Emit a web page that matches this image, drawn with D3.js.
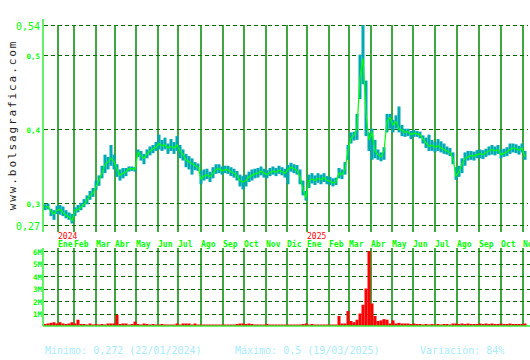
<!DOCTYPE html>
<html>
<head>
<meta charset="utf-8">
<script src="https://cdn.jsdelivr.net/npm/d3@7"></script>
<style>
  body { margin: 0; background: #fff; }
  svg { display: block; }
</style>
</head>
<body>
<script>
// one sample every 3 sessions, starting at session 1
const closes = [
  .294,.295,.288,.285,.290,.291,.287,.283,.281,.276,
  .290,.291,.294,.298,.304,.310,.313,.322,.330,.340,
  .352,.355,.360,.356,.345,.337,.340,.342,.346,.346,
  .345,.368,.363,.360,.366,.370,.373,.375,.380,.377,
  .378,.374,.376,.374,.378,.370,.365,.358,.355,.353,
  .350,.348,.332,.336,.338,.335,.340,.345,.346,.343,
  .345,.344,.342,.340,.336,.330,.328,.330,.335,.337,
  .339,.340,.343,.340,.338,.341,.343,.341,.344,.342,
  .340,.345,.348,.346,.344,.335,.318,.307,.330,.332,
  .330,.333,.331,.334,.330,.329,.327,.328,.340,.338,
  .345,.370,.388,.391,.400,.470,.495,.420,.385,.395,
  .370,.365,.362,.370,.410,.415,.405,.410,.400,.398,
  .395,.396,.392,.394,.393,.392,.386,.381,.376,.378,
  .375,.377,.374,.372,.370,.368,.360,.336,.342,.352,
  .360,.362,.364,.363,.365,.366,.365,.368,.370,.372,
  .370,.372,.365,.367,.369,.372,.374,.373,.371,.374,
  .362
];
const highs = [
  .298,.299,.292,.290,.296,.297,.295,.290,.287,.285,
  .294,.297,.300,.305,.310,.316,.320,.330,.337,.350,
  .365,.362,.378,.365,.352,.345,.347,.347,.349,.349,
  .348,.372,.370,.366,.372,.376,.378,.382,.392,.385,
  .388,.380,.386,.382,.390,.378,.372,.366,.363,.360,
  .355,.353,.343,.345,.346,.342,.348,.352,.352,.349,
  .350,.350,.348,.346,.343,.338,.336,.338,.342,.345,
  .346,.347,.349,.346,.344,.347,.349,.347,.350,.348,
  .346,.351,.354,.352,.351,.345,.330,.316,.338,.340,
  .337,.340,.338,.340,.336,.335,.333,.334,.347,.345,
  .355,.378,.395,.396,.420,.500,.540,.465,.395,.400,
  .385,.372,.368,.375,.420,.420,.412,.418,.430,.405,
  .400,.400,.397,.398,.397,.396,.391,.388,.392,.385,
  .382,.386,.383,.380,.376,.374,.368,.348,.350,.360,
  .368,.370,.370,.369,.371,.372,.371,.373,.376,.378,
  .376,.378,.372,.373,.375,.380,.380,.379,.377,.380,
  .370
];
const lows = [
  .290,.291,.282,.277,.285,.284,.282,.279,.277,.272,
  .282,.287,.290,.294,.298,.304,.308,.317,.323,.333,
  .340,.345,.350,.345,.335,.330,.333,.336,.342,.343,
  .342,.362,.357,.352,.360,.364,.367,.370,.372,.370,
  .372,.366,.370,.366,.370,.360,.357,.348,.345,.338,
  .344,.343,.325,.330,.332,.328,.333,.339,.340,.338,
  .340,.339,.336,.334,.330,.322,.318,.322,.328,.330,
  .333,.334,.337,.334,.333,.336,.338,.336,.339,.337,
  .334,.325,.342,.340,.338,.325,.310,.303,.320,.326,
  .324,.327,.325,.328,.325,.324,.322,.324,.333,.332,
  .338,.358,.380,.384,.385,.440,.460,.390,.370,.358,
  .360,.358,.356,.358,.395,.400,.395,.400,.395,.390,
  .389,.390,.386,.389,.389,.387,.380,.374,.370,.370,
  .368,.370,.368,.366,.365,.363,.352,.331,.335,.340,
  .350,.357,.358,.357,.360,.360,.359,.362,.364,.365,
  .364,.366,.360,.362,.363,.366,.368,.367,.365,.368,
  .358
];
// volume in millions
const volumes = [
  .16,.2,.25,.3,.2,.3,.2,.16,.2,.3,
  .2,.5,.16,.16,.12,.2,.12,.16,.12,.16,
  .12,.2,.2,.2,.9,.16,.2,.2,.12,.16,
  .35,.16,.12,.2,.16,.12,.16,.12,.12,.16,
  .12,.12,.12,.12,.2,.12,.2,.2,.2,.12,
  .2,.12,.12,.12,.12,.12,.12,.12,.12,.12,
  .12,.12,.12,.12,.16,.2,.2,.16,.2,.16,
  .12,.12,.12,.12,.16,.12,.12,.12,.12,.12,
  .12,.12,.12,.12,.12,.12,.16,.2,.12,.16,
  .12,.12,.12,.12,.12,.12,.12,.12,.8,.2,
  .2,1.2,.4,.3,.5,1.0,1.7,3.0,6.0,1.8,
  .8,.4,.45,.55,.5,.2,.45,.2,.25,.2,
  .2,.2,.16,.2,.16,.16,.12,.16,.12,.16,
  .12,.16,.12,.16,.16,.12,.2,.2,.16,.2,
  .16,.2,.16,.16,.16,.2,.16,.2,.16,.2,
  .16,.16,.2,.16,.16,.2,.16,.16,.16,.16,
  .2
];
const monthSessions = [14,30,52,71,92,114,134,157,179,200,222,243,263,285,305,327,348,369,391,413,435,457,479];
const monthLabels = ["Ene","Feb","Mar","Abr","May","Jun","Jul","Ago","Sep","Oct","Nov","Dic",
                     "Ene","Feb","Mar","Abr","May","Jun","Jul","Ago","Sep","Oct","Nov"];
const yearLabels = ["2024", "2025"];
const yearMonths = [0, 12];
const priceTicks = [0.27, 0.3, 0.4, 0.5, 0.54];
const volTicks = [1, 2, 3, 4, 5, 6];
const footer = ["Mínimo: 0,272 (22/01/2024)", "Máximo: 0,5 (19/03/2025)", "Variación: 84%"];
const footerX = [45, 235, 420];

const W = 530, H = 360;
const step = 3;
const mono = "'DejaVu Sans Mono', monospace";

const svg = d3.select("body").append("svg").attr("width", W).attr("height", H);

const x = d3.scaleLinear().domain([0, 483]).range([44, 527]);
const y = d3.scaleLinear().domain([0.27, 0.54]).range([225, 25]);
const yv = d3.scaleLinear().domain([0, 6]).range([326, 251]);

const sess = (i) => 1 + i * step;

// watermark
svg.append("text")
  .attr("transform", "translate(16,125) rotate(-90)")
  .attr("text-anchor", "middle")
  .attr("font-family", mono)
  .attr("font-size", 11)
  .attr("letter-spacing", 1.9)
  .attr("fill", "#222")
  .text("www.bolsagrafica.com");

// grid, price panel
svg.append("g").selectAll("line").data(priceTicks).join("line")
  .attr("x1", 44).attr("x2", 528)
  .attr("y1", (d) => Math.round(y(d)) + 0.5).attr("y2", (d) => Math.round(y(d)) + 0.5)
  .attr("stroke", "#006600").attr("stroke-width", 1.2).attr("stroke-dasharray", "4,3");
svg.append("g").selectAll("line").data(monthSessions).join("line")
  .attr("x1", (d) => x(d)).attr("x2", (d) => x(d))
  .attr("y1", 25).attr("y2", 232)
  .attr("stroke", "#008800").attr("stroke-width", 1.5);

// grid, volume panel
svg.append("g").selectAll("line").data(volTicks).join("line")
  .attr("x1", 44).attr("x2", 530)
  .attr("y1", (d) => Math.round(yv(d)) + 0.5).attr("y2", (d) => Math.round(yv(d)) + 0.5)
  .attr("stroke", "#006600").attr("stroke-width", 1.2).attr("stroke-dasharray", "4,3");
svg.append("g").selectAll("line").data(monthSessions).join("line")
  .attr("x1", (d) => x(d)).attr("x2", (d) => x(d))
  .attr("y1", 248).attr("y2", 326)
  .attr("stroke", "#008800").attr("stroke-width", 1.5);

// high-low bars
svg.append("g").selectAll("rect").data(closes).join("rect")
  .attr("x", (d, i) => x(sess(i)) - step / 2)
  .attr("width", step)
  .attr("y", (d, i) => y(highs[i]))
  .attr("height", (d, i) => y(lows[i]) - y(highs[i]))
  .attr("fill", "#00aab4");

// close line
svg.append("path")
  .datum(closes)
  .attr("d", d3.line().x((d, i) => x(sess(i))).y((d) => y(d)))
  .attr("fill", "none")
  .attr("stroke", "#00ff00")
  .attr("stroke-width", 1.2);

// volume bars
svg.append("g").selectAll("rect").data(volumes).join("rect")
  .attr("x", (d, i) => x(sess(i)) - step / 2)
  .attr("width", step)
  .attr("y", (d) => yv(d))
  .attr("height", (d) => yv(0) - yv(d))
  .attr("fill", "#ff0000");

// axes
const yAxis = d3.axisLeft(y).tickValues(priceTicks).tickSize(0).tickPadding(3)
  .tickFormat((d) => String(d).replace(".", ","));
const gy = svg.append("g").attr("transform", "translate(43,0)").call(yAxis);
gy.select(".domain").remove();
gy.selectAll("text")
  .attr("font-family", mono)
  .attr("fill", "#00ff00")
  .attr("font-size", (d) => (d === 0.27 || d === 0.54 ? 10 : 7.5))
  .attr("font-weight", (d) => (d === 0.27 || d === 0.54 ? "normal" : "bold"))
  .attr("dy", "0.45em");

const vAxis = d3.axisLeft(yv).tickValues(volTicks).tickSize(0).tickPadding(1)
  .tickFormat((d) => d + "M");
const gv = svg.append("g").attr("transform", "translate(43,0)").call(vAxis);
gv.select(".domain").remove();
gv.selectAll("text")
  .attr("font-family", mono).attr("font-size", 7.5).attr("font-weight", "bold")
  .attr("fill", "#00ff00").attr("dy", "0.4em");

svg.append("line").attr("x1", 43).attr("x2", 43).attr("y1", 19).attr("y2", 232)
  .attr("stroke", "#33ee33").attr("stroke-width", 1.5);
svg.append("line").attr("x1", 43).attr("x2", 43).attr("y1", 248).attr("y2", 326)
  .attr("stroke", "#33ee33").attr("stroke-width", 1.5);
svg.append("line").attr("x1", 43).attr("x2", 530).attr("y1", 326).attr("y2", 326)
  .attr("stroke", "#33ee33").attr("stroke-width", 1.5);

// month and year labels
svg.append("g").selectAll("text").data(monthSessions).join("text")
  .attr("x", (d) => x(d)).attr("y", 246.5)
  .attr("font-family", mono).attr("font-size", 8).attr("font-weight", "bold")
  .attr("fill", "#00ff00")
  .text((d, i) => monthLabels[i]);
svg.append("g").selectAll("text").data(yearLabels).join("text")
  .attr("x", (d, i) => x(monthSessions[yearMonths[i]])).attr("y", 238.5)
  .attr("font-family", mono).attr("font-size", 8)
  .attr("fill", "#ff0000")
  .text((d) => d);

// footer
svg.append("g").selectAll("text").data(footer).join("text")
  .attr("x", (d, i) => footerX[i]).attr("y", 354)
  .attr("font-family", mono).attr("font-size", 10)
  .attr("fill", "#a8ecff")
  .text((d) => d);
</script>
</body>
</html>
